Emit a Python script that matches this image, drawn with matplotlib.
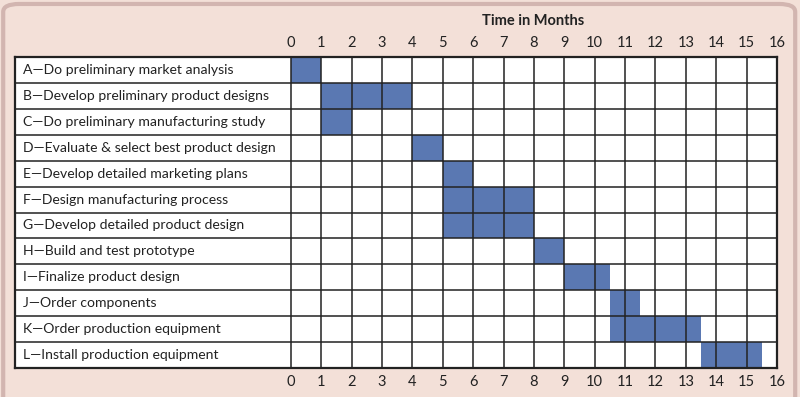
import matplotlib.pyplot as plt
from matplotlib.patches import FancyBboxPatch

# Gantt chart data (months)
tasks = ["A\u2014Do preliminary market analysis",
         "B\u2014Develop preliminary product designs",
         "C\u2014Do preliminary manufacturing study",
         "D\u2014Evaluate & select best product design",
         "E\u2014Develop detailed marketing plans",
         "F\u2014Design manufacturing process",
         "G\u2014Develop detailed product design",
         "H\u2014Build and test prototype",
         "I\u2014Finalize product design",
         "J\u2014Order components",
         "K\u2014Order production equipment",
         "L\u2014Install production equipment"]
starts = [0, 1, 1, 4, 5, 5, 5, 8, 9, 10.5, 10.5, 13.5]
durations = [1, 3, 1, 1, 1, 3, 3, 1, 1.5, 1, 3, 2]
months = list(range(17))

plt.rcParams['font.family'] = ['Lato', 'DejaVu Sans']
bg = '#f3e0d8'
bar_col = '#5a78b2'
line_col = '#222222'
label_w = 9.08  # width of the label column in month units

fig = plt.figure(figsize=(8, 3.97), dpi=100, facecolor=bg)
fig.patches.append(FancyBboxPatch((0.004, -0.3), 0.99, 1.29, boxstyle='round,pad=0,rounding_size=0.02',
                                  transform=fig.transFigure, facecolor='none',
                                  edgecolor='#d2b5b0', linewidth=3))
ax = fig.add_axes([0.01875, 0.073, 0.9525, 0.7834])
ax.set_facecolor('white')

n = len(tasks)
ys = [i + 0.5 for i in range(n)]
ax.barh(ys, durations, left=starts, height=1, color=bar_col, zorder=1)

for m in months:
    ax.plot([m, m], [0, n], color=line_col, lw=1.1, zorder=2)
for i in range(n + 1):
    ax.plot([-label_w, 16], [i, i], color=line_col, lw=1.1, zorder=2)

for y, t in zip(ys, tasks):
    ax.text(-label_w + 0.25, y, t, va='center', ha='left', fontsize=10.1, color='#222222')

ax.set_xlim(-label_w, 16)
ax.set_ylim(n, 0)
ax.set_xticks(months)
ax.set_xticklabels([str(m) for m in months])
ax.set_yticks([])
ax.tick_params(axis='x', length=0, labeltop=True, labelbottom=True, labelsize=10.5,
               colors='#222222', pad=5)
for s in ax.spines.values():
    s.set_linewidth(1.6)
    s.set_color(line_col)

fig.text(0.666, 0.948, "Time in Months", ha='center', va='center', fontsize=10.5,
         fontweight='bold', color='#222222')

fig.savefig('out.png', dpi=100, facecolor=bg)
